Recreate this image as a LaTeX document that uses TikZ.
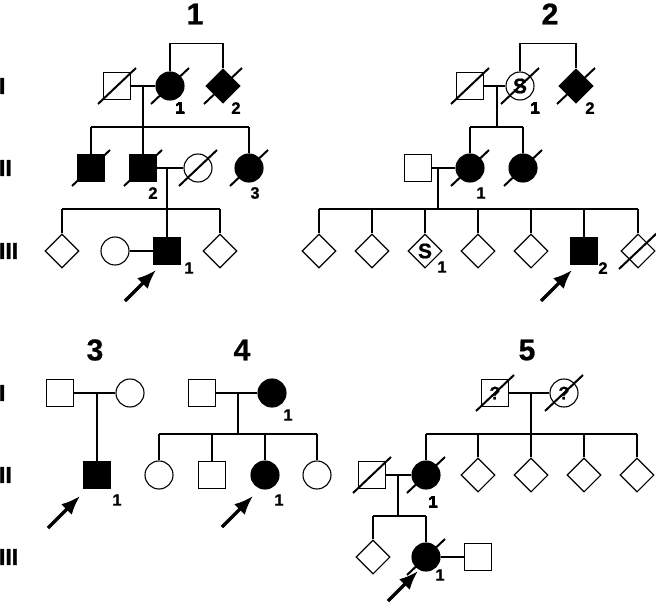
\documentclass[tikz,border=0pt]{standalone}
\usepackage{fontspec}
\setmainfont{Liberation Sans}
\newfontfamily\heavy{Liberation Sans Bold}[FakeBold=1.6]
\newfontfamily\semiheavy{Liberation Sans Bold}[FakeBold=0.8]
\usetikzlibrary{shapes.geometric,arrows.meta}
\newcommand\dec[1]{\draw[dead] ([shift={(-19,18)}]#1.center) -- ([shift={(19,-18)}]#1.center);}
\newcommand\kids[4]{% descent coordinate, sib y coordinate, left child, right child
  \draw (#1) -- (#1 |- #2);
  \draw (#3.north |- #2) -- (#4.north |- #2);}
\begin{document}
\begin{tikzpicture}[x=1pt,y=-1pt,line width=1.1pt,
  sq/.style={rectangle,draw,fill=white,minimum size=27pt,inner sep=0pt},
  ci/.style={circle,draw,fill=white,minimum size=28pt,inner sep=0pt},
  di/.style={diamond,draw,fill=white,minimum size=34pt,inner sep=0pt},
  aff/.style={fill=black},
  dead/.style={line width=2pt},
  proband/.style={line width=3.2pt,-{Latex[length=19pt,width=15pt]}},
  num/.style={font=\fontsize{16.5}{16.5}\semiheavy,inner sep=0pt},
  ttl/.style={font=\fontsize{30}{30}\semiheavy,inner sep=0pt},
  gen/.style={font=\fontsize{23}{23}\heavy,inner sep=0pt,anchor=west},
  ins/.style={font=\fontsize{21}{21}\semiheavy},
  insq/.style={font=\fontsize{18}{18}\semiheavy}]
\useasboundingbox (0,0) rectangle (656,607);

% generation labels
\node[gen] (gI1) at (-1.5,86) {I};
\node[gen] (gII1) at (-1.5,168) {II};
\node[gen] (gIII1) at (-1.5,251) {III};
\node[gen] (gI2) at (-1.5,393) {I};
\node[gen] (gII2) at (-1.5,475) {II};
\node[gen] (gIII2) at (-1.5,557) {III};

% titles
\node[ttl] (t1) at (195,14) {1};
\node[ttl] (t2) at (550,14) {2};
\node[ttl] (t3) at (95,350) {3};
\node[ttl] (t4) at (242,350) {4};
\node[ttl] (t5) at (527,350) {5};

%% Pedigree 1
\node[sq] (p1a) at (117,86) {};
\node[ci,aff] (p1b) at (170,86) {};
\node[di,aff] (p1c) at (223,86) {};
\node[sq,aff] (p1d) at (91,168) {};
\node[sq,aff] (p1e) at (143,168) {};
\node[ci] (p1f) at (198,168) {};
\node[ci,aff] (p1g) at (249,168) {};
\node[di] (p1h) at (62,251) {};
\node[ci] (p1i) at (115,251) {};
\node[sq,aff] (p1j) at (167,251) {};
\node[di] (p1k) at (220,251) {};
\coordinate (p1m) at (143,86);
\coordinate (p1s) at (0,127);
\coordinate (p1n) at (167,168);
\coordinate (p1t) at (0,209);
\draw (p1b.north) -- ++(0,-28) -| (p1c.north);
\draw (p1a.east) -- (p1b.west);
\kids{p1m}{p1s}{p1d}{p1g}
\foreach \c in {p1d,p1e,p1g} \draw (\c.north) -- (\c.north |- p1s);
\draw (p1e.east) -- (p1f.west);
\kids{p1n}{p1t}{p1h}{p1k}
\foreach \c in {p1h,p1j,p1k} \draw (\c.north) -- (\c.north |- p1t);
\draw (p1i.east) -- (p1j.west);
\foreach \c in {p1a,p1b,p1c,p1d,p1e,p1f,p1g} \dec{\c}
\node[num] (l1a) at (180,108) {1};
\node[num] (l1b) at (236,108) {2};
\node[num] (l1c) at (153,193) {2};
\node[num] (l1d) at (255,193) {3};
\node[num] (l1e) at (189,268) {1};
\coordinate (a1) at (125,301);
\coordinate (a1t) at (156,270);
\draw[proband] (a1) -- (a1t);

%% Pedigree 2
\node[sq] (p2a) at (470,86) {};
\node[ci,ins] (p2b) at (520,86) {S};
\node[di,aff] (p2c) at (576,86) {};
\node[sq] (p2d) at (418,168) {};
\node[ci,aff] (p2e) at (470,168) {};
\node[ci,aff] (p2f) at (523,168) {};
\node[di] (p2g) at (319,251) {};
\node[di] (p2h) at (372,251) {};
\node[di,ins] (p2i) at (425,251) {S};
\node[di] (p2j) at (478,251) {};
\node[di] (p2k) at (531,251) {};
\node[sq,aff] (p2l) at (584,251) {};
\node[di] (p2m) at (638,251) {};
\coordinate (p2x) at (497,86);
\coordinate (p2s) at (0,127);
\coordinate (p2y) at (438,168);
\coordinate (p2t) at (0,209);
\draw (p2b.north) -- ++(0,-28) -| (p2c.north);
\draw (p2a.east) -- (p2b.west);
\kids{p2x}{p2s}{p2e}{p2f}
\foreach \c in {p2e,p2f} \draw (\c.north) -- (\c.north |- p2s);
\draw (p2d.east) -- (p2e.west);
\kids{p2y}{p2t}{p2g}{p2m}
\foreach \c in {p2g,p2h,p2i,p2j,p2k,p2l,p2m} \draw (\c.north) -- (\c.north |- p2t);
\foreach \c in {p2a,p2b,p2c,p2e,p2f,p2m} \dec{\c}
\node[num] (l2a) at (535,108) {1};
\node[num] (l2b) at (590,108) {2};
\node[num] (l2c) at (481,193) {1};
\node[num] (l2d) at (442,267) {1};
\node[num] (l2e) at (603,268) {2};
\coordinate (a2) at (541,301);
\coordinate (a2t) at (572,270);
\draw[proband] (a2) -- (a2t);

%% Pedigree 3
\node[sq] (p3a) at (60,393) {};
\node[ci] (p3b) at (130,393) {};
\node[sq,aff] (p3c) at (97,475) {};
\draw (p3a.east) -- (p3b.west);
\coordinate (p3m) at (97,393);
\draw (p3m) -- (p3c.north);
\node[num] (l3a) at (117,500) {1};
\coordinate (a3) at (48,528);
\coordinate (a3t) at (80,496);
\draw[proband] (a3) -- (a3t);

%% Pedigree 4
\node[sq] (p4a) at (202,393) {};
\node[ci,aff] (p4b) at (272,393) {};
\node[ci] (p4c) at (159,475) {};
\node[sq] (p4d) at (212,475) {};
\node[ci,aff] (p4e) at (265,475) {};
\node[ci] (p4f) at (317,475) {};
\draw (p4a.east) -- (p4b.west);
\coordinate (p4m) at (238,393);
\coordinate (p4s) at (0,434);
\kids{p4m}{p4s}{p4c}{p4f}
\foreach \c in {p4c,p4d,p4e,p4f} \draw (\c.north) -- (\c.north |- p4s);
\node[num] (l4a) at (288,415) {1};
\node[num] (l4b) at (279,500) {1};
\coordinate (a4) at (222,527);
\coordinate (a4t) at (253,496);
\draw[proband] (a4) -- (a4t);

%% Pedigree 5
\node[sq,insq] (p5a) at (495,393) {?};
\node[ci,insq] (p5b) at (564,393) {?};
\node[ci,aff] (p5c) at (426,475) {};
\node[di] (p5d) at (478,475) {};
\node[di] (p5e) at (531,475) {};
\node[di] (p5f) at (584,475) {};
\node[di] (p5g) at (637,475) {};
\node[sq] (p5h) at (372,475) {};
\node[di] (p5i) at (373,557) {};
\node[ci,aff] (p5j) at (426,557) {};
\node[sq] (p5k) at (478,557) {};
\draw (p5a.east) -- (p5b.west);
\coordinate (p5m) at (531,393);
\coordinate (p5s) at (0,434);
\kids{p5m}{p5s}{p5c}{p5g}
\foreach \c in {p5c,p5d,p5e,p5f,p5g} \draw (\c.north) -- (\c.north |- p5s);
\draw (p5h.east) -- (p5c.west);
\coordinate (p5n) at (398,475);
\coordinate (p5t) at (0,516);
\kids{p5n}{p5t}{p5i}{p5j}
\foreach \c in {p5i,p5j} \draw (\c.north) -- (\c.north |- p5t);
\draw (p5j.east) -- (p5k.west);
\foreach \c in {p5a,p5b,p5c,p5h,p5j} \dec{\c}
\node[num] (l5a) at (433,502) {1};
\node[num] (l5b) at (440,575) {1};
\coordinate (a5) at (388,601);
\coordinate (a5t) at (418,571);
\draw[proband] (a5) -- (a5t);
\end{tikzpicture}
\end{document}
